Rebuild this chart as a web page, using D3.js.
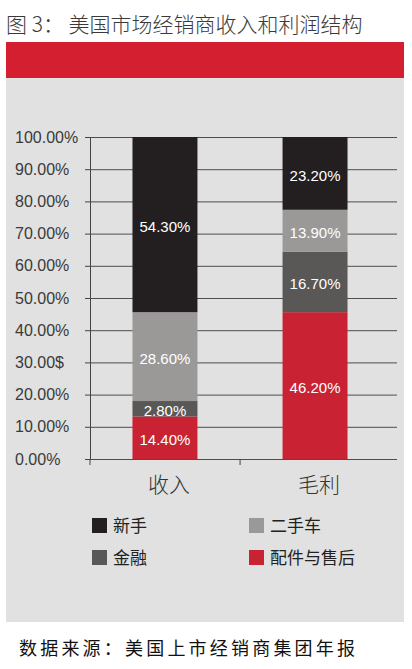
<!DOCTYPE html>
<html>
<head>
<meta charset="utf-8">
<script src="https://cdn.jsdelivr.net/npm/d3@7"></script>
<style>
  body { margin: 0; background: #fff; }
  text { font-family: "Liberation Sans", "Noto Sans CJK SC", sans-serif; }
</style>
</head>
<body>
<div id="chart"></div>
<script>
// categories and stacked series (bottom to top), heights
var categories = ["收入", "毛利"];
var seriesNames = ["配件与售后", "金融", "二手车", "新手"];
var partsService = [13.2, 45.6];
var finance = [4.8, 18.8];
var usedCar = [27.6, 13.0];
var newCar = [54.4, 22.6];

// printed labels on each segment
var partsLabels = ["14.40%", "46.20%"];
var financeLabels = ["2.80%", "16.70%"];
var usedLabels = ["28.60%", "13.90%"];
var newLabels = ["54.30%", "23.20%"];

var tickValues = [0, 10, 20, 30, 40, 50, 60, 70, 80, 90, 100];
var tickLabels = ["0.00%", "10.00%", "20.00%", "30.00$", "40.00%", "50.00%",
                  "60.00%", "70.00%", "80.00%", "90.00%", "100.00%"];

var colors = ["#c92333", "#5a5856", "#9a9998", "#231f20"];
var legendOrder = ["新手", "二手车", "金融", "配件与售后"];

var W = 412, H = 669;

var svg = d3.select("#chart")
  .append("svg")
    .attr("width", W)
    .attr("height", H);

// title
svg.append("text")
  .attr("x", 6)
  .attr("y", 32)
  .style("font-family", "'Noto Sans CJK SC', sans-serif")
  .style("font-size", "21px")
  .style("font-weight", 300)
  .attr("fill", "#3a3a3a")
  .text("图 3：  美国市场经销商收入和利润结构");

// red band and grey panel
svg.append("rect").attr("x", 6).attr("y", 42).attr("width", 398).attr("height", 36).attr("fill", "#d41f31");
svg.append("rect").attr("x", 6).attr("y", 78).attr("width", 398).attr("height", 544).attr("fill", "#e1e1e1");

// scales
var y = d3.scaleLinear().domain([0, 100]).range([459, 137]);
var x = d3.scaleBand()
  .domain(categories)
  .range([90, 390])
  .paddingInner(0.567)
  .paddingOuter(0.283);

// gridlines
svg.append("g")
  .attr("transform", "translate(90,0)")
  .call(d3.axisRight(y).tickValues(tickValues).tickSize(307).tickFormat(""))
  .call(function(g) {
    g.select(".domain").remove();
    g.selectAll("line").attr("stroke", "#4d4d4d");
  });

// y axis with labels
svg.append("g")
  .attr("transform", "translate(90,0)")
  .call(d3.axisLeft(y).tickValues(tickValues).tickSize(5).tickSizeOuter(0)
    .tickFormat(function(d, i) { return tickLabels[i]; }))
  .call(function(g) {
    g.select(".domain").attr("stroke", "#444");
    g.selectAll("line").attr("stroke", "#444");
    g.selectAll("text")
      .attr("x", 15 - 90)
      .attr("text-anchor", "start")
      .attr("fill", "#3a3a3a")
      .style("font-size", "16px");
  });

// stacked bars
var rows = categories.map(function(c, i) {
  return {
    cat: c,
    "配件与售后": partsService[i],
    "金融": finance[i],
    "二手车": usedCar[i],
    "新手": newCar[i]
  };
});
var labelSets = [partsLabels, financeLabels, usedLabels, newLabels];

var stacked = d3.stack().keys(seriesNames)(rows);

var layers = svg.append("g")
  .selectAll("g")
  .data(stacked)
  .enter()
  .append("g")
    .attr("fill", function(d, i) { return colors[i]; });

layers.selectAll("rect")
  .data(function(d) { return d; })
  .enter()
  .append("rect")
    .attr("x", function(d) { return x(d.data.cat); })
    .attr("y", function(d) { return y(d[1]); })
    .attr("height", function(d) { return y(d[0]) - y(d[1]); })
    .attr("width", x.bandwidth());

layers.each(function(layer, li) {
  d3.select(this).selectAll("text")
    .data(layer)
    .enter()
    .append("text")
      .attr("x", function(d) { return x(d.data.cat) + x.bandwidth() / 2; })
      .attr("y", function(d) { return (y(d[0]) + y(d[1])) / 2 + 2; })
      .attr("dy", "0.35em")
      .attr("text-anchor", "middle")
      .attr("fill", "#fff")
      .style("font-size", "15px")
      .text(function(d, i) { return labelSets[li][i]; });
});

// x axis ticks and category labels
svg.append("g")
  .selectAll("line")
  .data(d3.range(categories.length))
  .enter()
  .append("line")
    .attr("x1", function(i) { return 90 + i * x.step() * 1; })
    .attr("x2", function(i) { return 90 + i * x.step() * 1; })
    .attr("y1", 459)
    .attr("y2", 465)
    .attr("stroke", "#444");

svg.append("g")
  .selectAll("text")
  .data(categories)
  .enter()
  .append("text")
    .attr("x", function(d) { return x(d) + x.bandwidth() / 2 + 4; })
    .attr("y", 492)
    .attr("text-anchor", "middle")
    .attr("fill", "#333")
    .style("font-family", "'Noto Sans CJK SC', sans-serif")
    .style("font-size", "21px")
    .style("font-weight", 300)
    .text(function(d) { return d; });

// legend
var legend = svg.append("g")
  .selectAll("g")
  .data(legendOrder)
  .enter()
  .append("g")
    .attr("transform", function(d, i) {
      return "translate(" + (i % 2 === 0 ? 92 : 249) + "," + (518 + Math.floor(i / 2) * 32) + ")";
    });

legend.append("rect")
  .attr("width", 15)
  .attr("height", 15)
  .attr("fill", function(d) { return colors[seriesNames.indexOf(d)]; });

legend.append("text")
  .attr("x", 21)
  .attr("y", 14)
  .attr("fill", "#222")
  .style("font-family", "'Noto Sans CJK SC', sans-serif")
  .style("font-size", "17px")
  .text(function(d) { return d; });

// source note
svg.append("text")
  .attr("x", 19)
  .attr("y", 655)
  .attr("fill", "#111")
  .style("font-family", "'Noto Sans CJK SC', serif")
  .style("font-size", "18px")
  .style("letter-spacing", "3.2px")
  .text("数据来源：美国上市经销商集团年报");
</script>
</body>
</html>
